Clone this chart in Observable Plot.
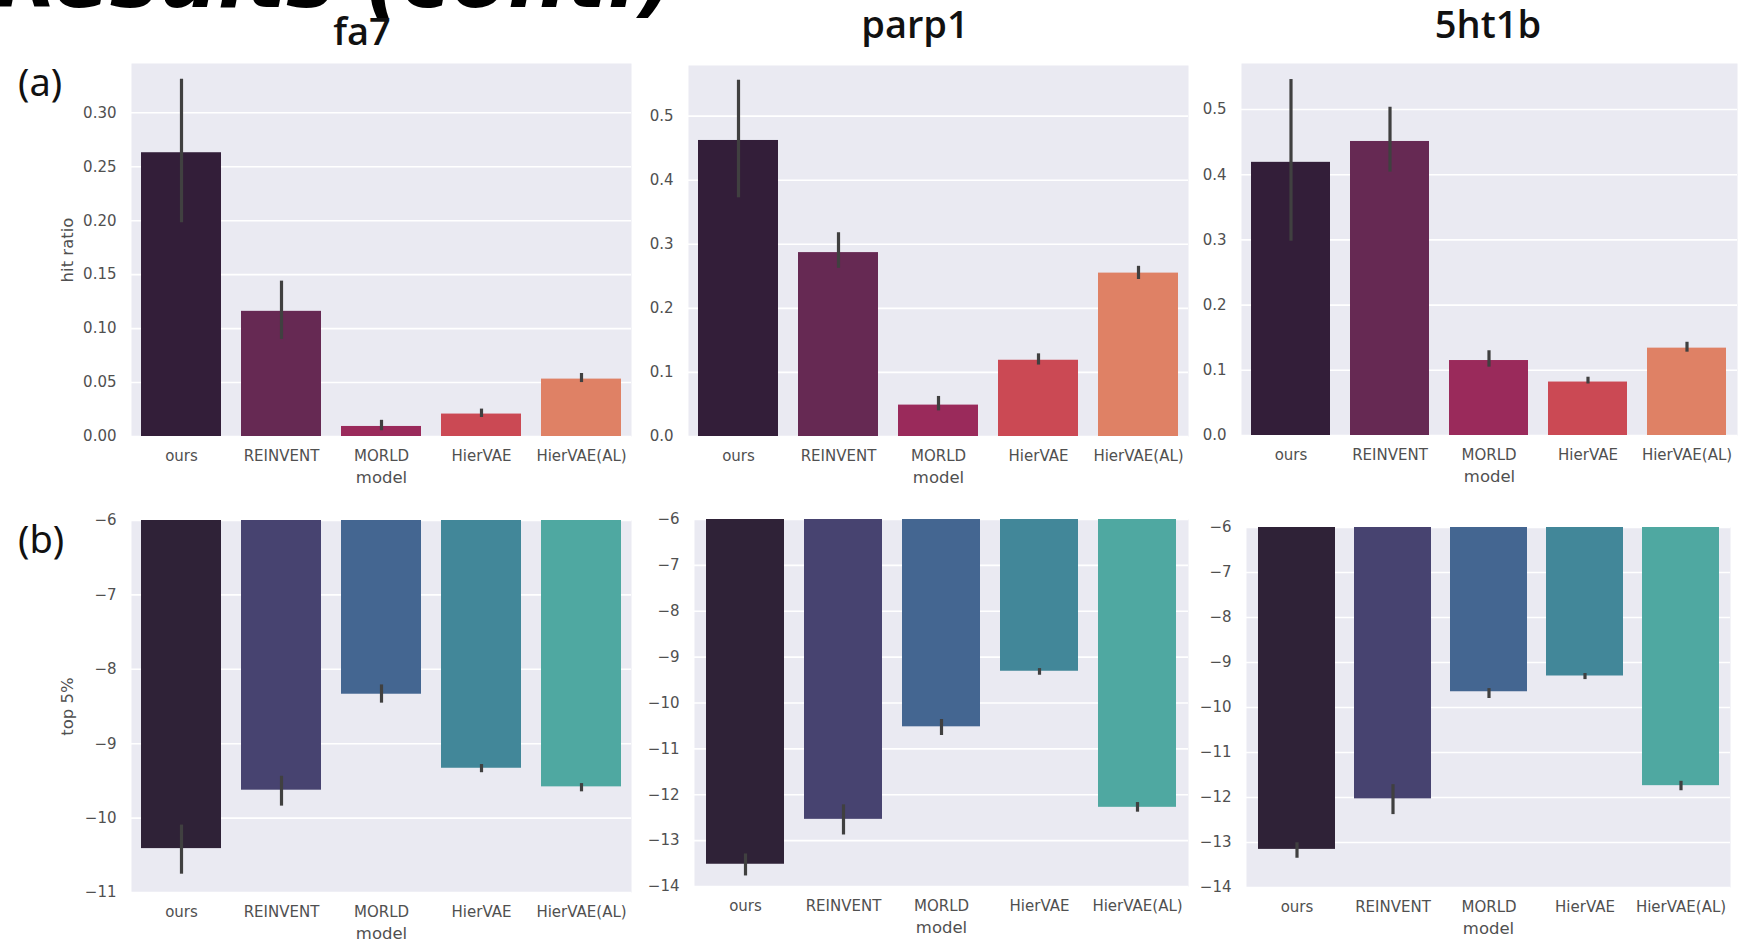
<!DOCTYPE html>
<html>
<head>
<meta charset="utf-8">
<script src="https://cdn.jsdelivr.net/npm/d3@7"></script>
<script src="https://cdn.jsdelivr.net/npm/@observablehq/plot@0.6"></script>
<style>
  html, body { margin: 0; padding: 0; background: #ffffff; }
  #page { position: relative; width: 1742px; height: 944px; overflow: hidden; background: #ffffff; }
  #page svg.ov { position: absolute; left: 0; top: 0; }
</style>
</head>
<body>
<div id="page"></div>
<script>
// ---------- data ----------
const models = ["ours", "REINVENT", "MORLD", "HierVAE", "HierVAE(AL)"];
const targets = ["fa7", "parp1", "5ht1b"];

// (a) hit ratio: mean, lower CI, upper CI
const hitFa7     = [0.263, 0.116, 0.0093, 0.0208, 0.0532];
const hitFa7Lo   = [0.198, 0.090, 0.0053, 0.0176, 0.0500];
const hitFa7Hi   = [0.331, 0.144, 0.0150, 0.0254, 0.0584];
const hitParp1   = [0.462, 0.287, 0.049, 0.119, 0.255];
const hitParp1Lo = [0.3725, 0.2625, 0.040, 0.1115, 0.245];
const hitParp1Hi = [0.556, 0.318, 0.0625, 0.129, 0.2656];
const hit5ht1b   = [0.419, 0.451, 0.115, 0.082, 0.134];
const hit5ht1bLo = [0.298, 0.404, 0.1048, 0.079, 0.1278];
const hit5ht1bHi = [0.546, 0.5035, 0.130, 0.0894, 0.143];

// (b) top 5% docking score: mean, lower CI, upper CI
const topFa7     = [-10.41, -9.625, -8.335, -9.33, -9.58];
const topFa7Lo   = [-10.754, -9.839, -8.455, -9.39, -9.647];
const topFa7Hi   = [-10.094, -9.4375, -8.21, -9.28, -9.536];
const topParp1   = [-13.515, -12.536, -10.519, -9.308, -12.274];
const topParp1Lo = [-13.77, -12.877, -10.708, -9.395, -12.38];
const topParp1Hi = [-13.29, -12.22, -10.36, -9.25, -12.17];
const top5ht1b   = [-13.153, -12.03, -9.65, -9.30, -11.737];
const top5ht1bLo = [-13.35, -12.38, -9.80, -9.38, -11.85];
const top5ht1bHi = [-13.006, -11.715, -9.58, -9.245, -11.64];

// tick values
const ticksHitFa7 = [0, 0.05, 0.10, 0.15, 0.20, 0.25, 0.30];
const ticksHit    = [0, 0.1, 0.2, 0.3, 0.4, 0.5];
const ticksTopFa7 = [-11, -10, -9, -8, -7, -6];
const ticksTop    = [-14, -13, -12, -11, -10, -9, -8, -7, -6];

// palettes (seaborn rocket / mako, desaturated)
const rocket = ["#331e39", "#662953", "#9a2a5b", "#cb4954", "#df8165"];
const mako   = ["#2f2237", "#474370", "#446691", "#428799", "#4fa8a1"];

// ---------- drawing ----------
const page = document.getElementById("page");
const ink = "#505050";
const fmtNeg = d => String(d).replace("-", "\u2212");

function rowsOf(v, lo, hi) {
  return models.map((m, i) => ({model: m, value: v[i], lo: lo[i], hi: hi[i]}));
}

function panel(box, o) {
  const mL = 95, mR = 4, mT = 4, mB = 60;
  const rows = rowsOf(o.v, o.lo, o.hi);
  const svg = Plot.plot({
    width: box.r - box.l + mL + mR,
    height: box.b - box.t + mT + mB,
    marginLeft: mL, marginRight: mR, marginTop: mT, marginBottom: mB,
    style: {background: "transparent", fontFamily: "'DejaVu Sans', sans-serif", overflow: "visible"},
    x: {domain: models, paddingInner: 0.2, paddingOuter: 0.1, label: null},
    y: {domain: o.domain, label: null},
    color: {domain: models, range: o.colors},
    marks: [
      Plot.frame({fill: "#eaeaf2", stroke: "none"}),
      Plot.gridY(o.ticks, {stroke: "#ffffff", strokeOpacity: 1, strokeWidth: 1.6}),
      Plot.barY(rows, {x: "model", y1: 0, y2: "value", fill: "model", clip: true}),
      Plot.ruleX(rows, {x: "model", y1: "lo", y2: "hi", stroke: "#404040", strokeWidth: 3.2}),
      Plot.axisY(o.ticks, {tickSize: 0, tickPadding: 15, fontSize: 15, color: ink, tickFormat: o.fmt, label: null}),
      Plot.axisX({tickSize: 0, tickPadding: 14, fontSize: 15, color: ink, label: null}),
      Plot.text(["model"], {text: d => d, frameAnchor: "bottom", dy: 41, lineAnchor: "middle", textAnchor: "middle", fontSize: 16.5, fill: ink}),
      o.ylabel ? Plot.text([o.ylabel], {text: d => d, frameAnchor: "left", dx: -64, rotate: -90, textAnchor: "middle", lineAnchor: "middle", fontSize: 16.5, fill: ink}) : null
    ]
  });
  svg.style.position = "absolute";
  svg.style.left = (box.l - mL) + "px";
  svg.style.top = (box.t - mT) + "px";
  svg.style.maxWidth = "none";
  page.appendChild(svg);
}

// (a) row
panel({l: 131, r: 631, t: 63, b: 436}, {v: hitFa7, lo: hitFa7Lo, hi: hitFa7Hi, domain: [0, 0.3457], ticks: ticksHitFa7, fmt: d3.format(".2f"), colors: rocket, ylabel: "hit ratio"});
panel({l: 688, r: 1188, t: 65, b: 436}, {v: hitParp1, lo: hitParp1Lo, hi: hitParp1Hi, domain: [0, 0.579], ticks: ticksHit, fmt: d3.format(".1f"), colors: rocket});
panel({l: 1241, r: 1737, t: 63, b: 435}, {v: hit5ht1b, lo: hit5ht1bLo, hi: hit5ht1bHi, domain: [0, 0.5706], ticks: ticksHit, fmt: d3.format(".1f"), colors: rocket});
// (b) row
panel({l: 131, r: 631, t: 520, b: 892}, {v: topFa7, lo: topFa7Lo, hi: topFa7Hi, domain: [-11, -6], ticks: ticksTopFa7, fmt: fmtNeg, colors: mako, ylabel: "top 5%"});
panel({l: 694, r: 1188, t: 519, b: 886}, {v: topParp1, lo: topParp1Lo, hi: topParp1Hi, domain: [-14, -6], ticks: ticksTop, fmt: fmtNeg, colors: mako});
panel({l: 1246, r: 1730, t: 527, b: 887}, {v: top5ht1b, lo: top5ht1bLo, hi: top5ht1bHi, domain: [-14, -6], ticks: ticksTop, fmt: fmtNeg, colors: mako});

// ---------- overlay texts (titles, panel letters, cropped slide heading) ----------
const ns = "http://www.w3.org/2000/svg";
const ov = document.createElementNS(ns, "svg");
ov.setAttribute("class", "ov");
ov.setAttribute("width", 1742);
ov.setAttribute("height", 944);
function addText(str, x, y, attrs) {
  const t = document.createElementNS(ns, "text");
  t.setAttribute("x", x); t.setAttribute("y", y);
  for (const k in attrs) t.setAttribute(k, attrs[k]);
  t.textContent = str;
  ov.appendChild(t);
}
addText("Results (cont.)", -6, 7, {"font-family": "'DejaVu Sans', sans-serif", "font-size": 82, "font-weight": 700, "font-style": "italic", textLength: 682, lengthAdjust: "spacingAndGlyphs", fill: "#000"});
const titleX = [362, 915, 1488];
const titleY = [45, 38, 38];
targets.forEach((t, i) => addText(t, titleX[i], titleY[i], {"font-family": "'Open Sans', sans-serif", "font-size": 38, "font-weight": 600, "text-anchor": "middle", fill: "#111"}));
addText("(a)", 18, 96, {"font-family": "'Noto Sans', sans-serif", "font-size": 38, fill: "#111"});
addText("(b)", 18, 553, {"font-family": "'Noto Sans', sans-serif", "font-size": 38, fill: "#111"});
page.insertBefore(ov, page.firstChild);
</script>
</body>
</html>
